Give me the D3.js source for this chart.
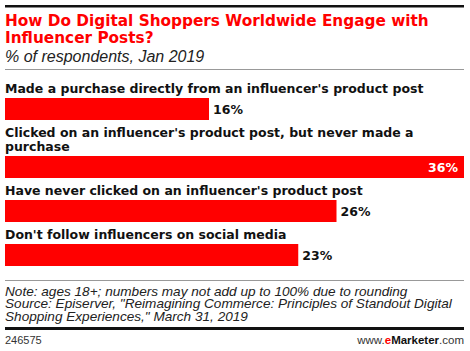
<!DOCTYPE html>
<html>
<head>
<meta charset="utf-8">
<script src="https://cdn.jsdelivr.net/npm/d3@7"></script>
<style>
  body { margin: 0; background: #fff; }
  svg { display: block; }
</style>
</head>
<body>
<div id="chart"></div>
<script>
// data
const categories = [
  "Made a purchase directly from an influencer's product post",
  "Clicked on an influencer's product post, but never made a purchase",
  "Have never clicked on an influencer's product post",
  "Don't follow influencers on social media"
];
const values = [16, 36, 26, 23];
const titleLines = ['How Do Digital Shoppers Worldwide Engage with', 'Influencer Posts?'];
const subtitle = '% of respondents, Jan 2019';
const noteLines = [
  'Note: ages 18+; numbers may not add up to 100% due to rounding',
  'Source: Episerver, "Reimagining Commerce: Principles of Standout Digital',
  'Shopping Experiences," March 31, 2019'
];
const chartId = '246575';

const W = 470, H = 351;
const left = 5, right = 464;
const red = '#ff0000';

const svg = d3.select('#chart').append('svg')
  .attr('width', W).attr('height', H);

// header
svg.append('rect').attr('x', left).attr('y', 5).attr('width', right - left).attr('height', 2.5).attr('fill', '#111');

svg.selectAll('.title')
  .data(titleLines)
  .enter()
  .append('text')
  .attr('class', 'title')
  .attr('x', left)
  .attr('y', (d, i) => 26 + i * 16.5)
  .attr('font-family', 'DejaVu Sans')
  .attr('font-weight', 'bold')
  .attr('font-size', '15.3px')
  .attr('fill', red)
  .text((d) => d);

svg.append('text')
  .attr('x', left).attr('y', 62)
  .attr('font-family', 'Liberation Sans')
  .attr('font-style', 'italic')
  .attr('font-size', '16px')
  .attr('fill', '#222')
  .text(subtitle);

svg.append('rect').attr('x', left).attr('y', 69).attr('width', right - left).attr('height', 1).attr('fill', '#999');

// bars
const x = d3.scaleLinear().domain([0, d3.max(values)]).range([left, right]);

const barH = 22;
const lineH = 14;
let y0 = 93;

categories.forEach((cat, i) => {
  const label = svg.append('text')
    .attr('x', left)
    .attr('y', y0)
    .attr('font-family', 'DejaVu Sans')
    .attr('font-weight', 'bold')
    .attr('font-size', '12.5px')
    .attr('fill', '#111');

  // wrap words to the plot width
  const words = cat.split(' ');
  let line = [];
  let lineNo = 0;
  let tspan = label.append('tspan').attr('x', left).attr('y', y0);
  words.forEach((w) => {
    line.push(w);
    tspan.text(line.join(' '));
    if (tspan.node().getComputedTextLength() > right - left && line.length > 1) {
      line.pop();
      tspan.text(line.join(' '));
      line = [w];
      lineNo++;
      tspan = label.append('tspan').attr('x', left).attr('y', y0 + lineNo * lineH).text(w);
    }
  });

  const barY = y0 + lineNo * lineH + 5;
  svg.append('rect')
    .attr('x', x(0))
    .attr('y', barY)
    .attr('width', x(values[i]) - x(0))
    .attr('height', barH)
    .attr('fill', red);

  const inside = values[i] === d3.max(values);
  svg.append('text')
    .attr('x', inside ? x(values[i]) - 6 : x(values[i]) + 4)
    .attr('y', barY + barH / 2)
    .attr('dy', '0.36em')
    .attr('text-anchor', inside ? 'end' : 'start')
    .attr('font-family', 'DejaVu Sans')
    .attr('font-weight', 'bold')
    .attr('font-size', '12.5px')
    .attr('fill', inside ? '#fff' : '#111')
    .text(values[i] + '%');

  y0 = barY + barH + 17;
});

// footer
svg.append('rect').attr('x', left).attr('y', 280).attr('width', right - left).attr('height', 1).attr('fill', '#999');

svg.selectAll('.note')
  .data(noteLines)
  .enter()
  .append('text')
  .attr('class', 'note')
  .attr('x', left)
  .attr('y', (d, i) => 295.5 + i * 12.6)
  .attr('font-family', 'Liberation Sans')
  .attr('font-style', 'italic')
  .attr('font-size', '13.6px')
  .attr('fill', '#222')
  .text((d) => d);

svg.append('rect').attr('x', left).attr('y', 327).attr('width', right - left).attr('height', 3).attr('fill', '#111');

svg.append('text')
  .attr('x', left).attr('y', 344)
  .attr('font-family', 'Liberation Sans')
  .attr('font-size', '11px')
  .attr('fill', '#333')
  .text(chartId);

const brand = svg.append('text')
  .attr('x', right).attr('y', 344)
  .attr('text-anchor', 'end')
  .attr('font-family', 'Liberation Sans')
  .attr('font-size', '11.5px')
  .attr('fill', '#333');
brand.append('tspan').text('www.');
brand.append('tspan').attr('fill', red).attr('font-weight', 'bold').text('e');
brand.append('tspan').attr('fill', '#111').attr('font-weight', 'bold').text('Marketer');
brand.append('tspan').text('.com');
</script>
</body>
</html>
